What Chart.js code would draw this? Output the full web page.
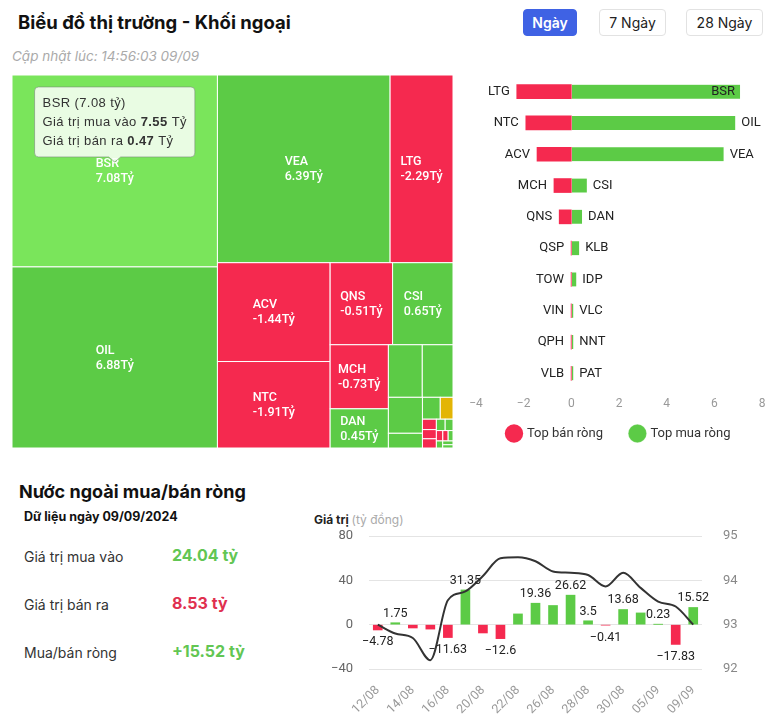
<!DOCTYPE html>
<html>
<head>
<meta charset="utf-8">
<script src="https://cdn.jsdelivr.net/npm/chart.js@4.4.1/dist/chart.umd.min.js"></script>
<style>
  body { margin: 0; width: 773px; height: 718px; background: #fff; position: relative; overflow: hidden; font-family: Inter, Roboto, sans-serif; color: #111; }
  .abs { position: absolute; white-space: nowrap; }
  .title { left: 18px; top: 11px; font-size: 18.5px; font-weight: 700; line-height: 22px; }
  .btn { top: 9px; height: 27px; box-sizing: border-box; border: 1px solid #e2e2e2; border-radius: 4px; font-size: 14px; line-height: 25px; text-align: center; color: #222; background: #fff; }
  .btn.on { background: #3f62e4; border-color: #3f62e4; color: #fff; font-weight: 600; }
  .updated { left: 12px; top: 48px; font-size: 13.5px; font-style: italic; color: #aaa; }
  .h2 { left: 19px; top: 481px; font-size: 18px; font-weight: 700; line-height: 22px; }
  .date { left: 24px; top: 509px; font-size: 12.5px; font-weight: 700; }
  .row { left: 24px; font-size: 14px; color: #333; }
  .val { left: 172px; font-size: 16px; font-weight: 700; }
  .up { color: #62c653; }
  .down { color: #e0304f; }
  .axtitle { left: 314px; top: 512px; font-size: 12px; font-weight: 700; color: #222; }
  .axtitle span { font-weight: 400; color: #aaa; }
  canvas { position: absolute; }
</style>
</head>
<body>
<div class="abs title">Biểu đồ thị trường - Khối ngoại</div>
<div class="abs btn on" style="left:523px;width:54px;">Ngày</div>
<div class="abs btn" style="left:599px;width:67px;">7 Ngày</div>
<div class="abs btn" style="left:686px;width:77px;">28 Ngày</div>
<div class="abs updated">Cập nhật lúc: 14:56:03 09/09</div>

<canvas id="treemap" width="441" height="373" style="left:12px;top:75px;"></canvas>
<canvas id="topChart" width="313" height="380" style="left:460px;top:70px;"></canvas>

<div class="abs h2">Nước ngoài mua/bán ròng</div>
<div class="abs date">Dữ liệu ngày 09/09/2024</div>
<div class="abs row" style="top:548px;">Giá trị mua vào</div>
<div class="abs val up" style="top:545px;">24.04 tỷ</div>
<div class="abs row" style="top:596px;">Giá trị bán ra</div>
<div class="abs val down" style="top:593px;">8.53 tỷ</div>
<div class="abs row" style="top:644px;">Mua/bán ròng</div>
<div class="abs val up" style="top:641px;">+15.52 tỷ</div>
<div class="abs axtitle">Giá trị <span>(tỷ đồng)</span></div>

<canvas id="flowChart" width="468" height="213" style="left:305px;top:505px;"></canvas>

<script>
// Treemap cells (size, net value shown in label)
const treeNames = ['BSR', 'OIL', 'VEA', 'LTG', 'ACV', 'NTC', 'QNS', 'CSI', 'MCH', 'DAN', 'KLB', 'IDP', '', '', '', '', 'QSP', 'TOW', 'VIN', 'VLC', 'NNT', 'QPH', 'VLB', 'PAT', '', '', ''];
const treeSizes = [7.08, 6.68, 5.82, 2.12, 2.0, 1.75, 0.92, 0.89, 0.67, 0.41, 0.32, 0.29, 0.22, 0.09, 0.07, 0.05, 0.026, 0.023, 0.023, 0.018, 0.016, 0.012, 0.01, 0.009, 0.008, 0.007, 0.006];
const treeNet = [7.08, 6.88, 6.39, -2.29, -1.44, -1.91, -0.51, 0.65, -0.73, 0.45, 0.33, 0.21, 0.15, 0.06, 0.05, 0, -0.03, -0.02, -0.01, 0.02, 0.02, -0.01, -0.01, 0.02, 0.01, 0.01, 0.01];
const hoverIndex = 0;
const hoverBuy = 7.55;
const hoverSell = 0.47;

// Top net sell / net buy
const sellNames = ['LTG', 'NTC', 'ACV', 'MCH', 'QNS', 'QSP', 'TOW', 'VIN', 'QPH', 'VLB'];
const sellValues = [-2.29, -1.91, -1.44, -0.73, -0.51, -0.01, -0.01, -0.01, -0.01, -0.01];
const buyNames = ['BSR', 'OIL', 'VEA', 'CSI', 'DAN', 'KLB', 'IDP', 'VLC', 'NNT', 'PAT'];
const buyValues = [7.08, 6.88, 6.39, 0.65, 0.45, 0.33, 0.21, 0.02, 0.02, 0.02];

// Daily foreign net flow and index line
const flowDates = ['12/08', '13/08', '14/08', '15/08', '16/08', '19/08', '20/08', '21/08', '22/08', '23/08',
  '26/08', '27/08', '28/08', '29/08', '30/08', '04/09', '05/09', '06/09', '09/09'];
const netValues = [-4.78, 1.75, -3.0, -4.0, -11.63, 31.35, -7.5, -12.6, 9.7, 19.36,
  17.3, 26.62, 3.5, -0.41, 13.68, 10.6, 0.23, -17.83, 15.52];
const labelledDays = [1, 1, 0, 0, 1, 1, 0, 1, 0, 1, 0, 1, 1, 1, 1, 0, 1, 1, 1];
const indexValues = [93.0, 92.8, 92.7, 92.2, 93.55, 93.75, 94.1, 94.5, 94.52, 94.43,
  94.2, 94.17, 94.12, 93.86, 94.17, 93.83, 93.52, 93.41, 93.0];

const GREEN = '#5ccb46';
const GREEN_HOVER = '#7ae55b';
const RED = '#f5294f';
const YELLOW = '#e3b505';

Chart.defaults.font.family = 'Roboto, sans-serif';

// squarified layout, golden-ratio target like echarts
function worst(row, s, side) {
  let amax = 0, amin = Infinity;
  row.forEach(it => { amax = Math.max(amax, it.area); amin = Math.min(amin, it.area); });
  const f = side * side * (1 + Math.sqrt(5)) / 2;
  return Math.max(f * amax / (s * s), (s * s) / (f * amin));
}

function placeRow(row, s, rect, out) {
  if (rect.w >= rect.h) {
    const cw = s / rect.h;
    let cy = rect.y;
    row.forEach(it => { const ch = it.area / cw; out.push({ i: it.i, x: rect.x, y: cy, w: cw, h: ch }); cy += ch; });
    return { x: rect.x + cw, y: rect.y, w: rect.w - cw, h: rect.h };
  }
  const rh = s / rect.w;
  let cx = rect.x;
  row.forEach(it => { const cw = it.area / rh; out.push({ i: it.i, x: cx, y: rect.y, w: cw, h: rh }); cx += cw; });
  return { x: rect.x, y: rect.y + rh, w: rect.w, h: rect.h - rh };
}

function squarify(items, rect) {
  const out = [];
  let row = [], s = 0, best = Infinity, i = 0;
  while (i < items.length) {
    const side = Math.min(rect.w, rect.h);
    row.push(items[i]); s += items[i].area;
    const score = worst(row, s, side);
    if (score <= best) { best = score; i++; }
    else {
      row.pop(); s -= items[i].area;
      rect = placeRow(row, s, rect, out);
      row = []; s = 0; best = Infinity;
    }
  }
  if (row.length) placeRow(row, s, rect, out);
  return out;
}

const treemapPlugin = {
  id: 'treemapCells',
  afterDatasetsDraw(chart) {
    const ctx = chart.ctx, xs = chart.scales.x, ys = chart.scales.y, a = chart.chartArea;
    const W = a.right - a.left, H = a.bottom - a.top;
    const total = treeSizes.reduce((p, v) => p + v, 0);
    const items = treeSizes.map((v, i) => ({ i, area: v / total * W * H })).sort((p, q) => q.area - p.area);
    const cells = squarify(items, { x: 0, y: 0, w: W, h: H });
    let hoverCell = null;
    ctx.save();
    cells.forEach(c => {
      const x0 = xs.getPixelForValue(c.x / W), x1 = xs.getPixelForValue((c.x + c.w) / W);
      const y0 = ys.getPixelForValue(c.y / H), y1 = ys.getPixelForValue((c.y + c.h) / H);
      const net = treeNet[c.i];
      let col = net > 0 ? GREEN : (net < 0 ? RED : YELLOW);
      if (c.i === hoverIndex) col = GREEN_HOVER;
      ctx.fillStyle = col;
      ctx.fillRect(x0, y0, x1 - x0, y1 - y0);
      ctx.strokeStyle = '#fff';
      ctx.lineWidth = 1;
      ctx.strokeRect(x0, y0, x1 - x0, y1 - y0);
      const name = treeNames[c.i];
      const valTxt = net.toFixed(2) + 'Tỷ';
      ctx.font = '500 12.5px Roboto, sans-serif';
      const tw = Math.max(ctx.measureText(name).width, ctx.measureText(valTxt).width);
      const cx = (x0 + x1) / 2, cy = (y0 + y1) / 2;
      if (name && tw + 10 <= x1 - x0 && 34 <= y1 - y0) {
        ctx.fillStyle = '#fff';
        ctx.textBaseline = 'middle';
        ctx.textAlign = 'left';
        ctx.fillText(name, cx - tw / 2, cy - 7);
        ctx.fillText(valTxt, cx - tw / 2, cy + 8);
      }
      if (c.i === hoverIndex) hoverCell = { cx, cy };
    });
    if (hoverCell) drawTip(ctx, hoverCell);
    ctx.restore();
  }
};

function drawTip(ctx, cell) {
  const i = hoverIndex;
  const lines = [
    [[treeNames[i] + ' (' + treeNet[i].toFixed(2) + ' tỷ)', false]],
    [['Giá trị mua vào ', false], [hoverBuy.toFixed(2), true], [' Tỷ', false]],
    [['Giá trị bán ra ', false], [hoverSell.toFixed(2), true], [' Tỷ', false]]
  ];
  const fN = '13px "Liberation Sans", Arial, sans-serif';
  const fB = 'bold 13px "Liberation Sans", Arial, sans-serif';
  ctx.letterSpacing = '0.4px';
  let maxW = 0;
  lines.forEach(l => {
    let w = 0;
    l.forEach(([t, b]) => { ctx.font = b ? fB : fN; w += ctx.measureText(t).width; });
    maxW = Math.max(maxW, w);
  });
  const bw = maxW + 16, bh = 70;
  const tipY = cell.cy - 9;
  const bx = cell.cx - bw / 2, by = tipY - 5 - bh;
  ctx.fillStyle = 'rgba(248,255,246,0.88)';
  ctx.strokeStyle = 'rgba(120,140,120,0.6)';
  ctx.lineWidth = 1;
  ctx.beginPath();
  const r = 4;
  ctx.moveTo(bx + r, by);
  ctx.lineTo(bx + bw - r, by); ctx.arcTo(bx + bw, by, bx + bw, by + r, r);
  ctx.lineTo(bx + bw, by + bh - r); ctx.arcTo(bx + bw, by + bh, bx + bw - r, by + bh, r);
  ctx.lineTo(cell.cx + 6, by + bh); ctx.lineTo(cell.cx, tipY); ctx.lineTo(cell.cx - 6, by + bh);
  ctx.lineTo(bx + r, by + bh); ctx.arcTo(bx, by + bh, bx, by + bh - r, r);
  ctx.lineTo(bx, by + r); ctx.arcTo(bx, by, bx + r, by, r);
  ctx.closePath();
  ctx.fill();
  ctx.stroke();
  ctx.fillStyle = '#333';
  ctx.textBaseline = 'middle';
  ctx.textAlign = 'left';
  lines.forEach((l, k) => {
    let x = bx + 8;
    l.forEach(([t, b]) => { ctx.font = b ? fB : fN; ctx.fillText(t, x, by + 16 + k * 19); x += ctx.measureText(t).width; });
  });
  ctx.letterSpacing = '0px';
}

new Chart(document.getElementById('treemap'), {
  type: 'scatter',
  data: { datasets: [{ data: [] }] },
  options: {
    responsive: false,
    animation: false,
    layout: { padding: 0 },
    plugins: { legend: { display: false }, tooltip: { enabled: false } },
    scales: {
      x: { type: 'linear', min: 0, max: 1, display: false },
      y: { type: 'linear', min: 0, max: 1, reverse: true, display: false }
    }
  },
  plugins: [treemapPlugin]
});

// names next to the bars of the top chart
const namePlugin = {
  id: 'barNames',
  afterDatasetsDraw(chart) {
    const ctx = chart.ctx, a = chart.chartArea;
    ctx.save();
    ctx.font = '13px Roboto, sans-serif';
    ctx.fillStyle = '#222';
    ctx.textBaseline = 'middle';
    chart.getDatasetMeta(0).data.forEach((bar, i) => {
      ctx.textAlign = 'right';
      ctx.fillText(sellNames[i], Math.min(bar.x, bar.base) - 7, bar.y);
    });
    chart.getDatasetMeta(1).data.forEach((bar, i) => {
      const end = Math.max(bar.x, bar.base);
      const w = ctx.measureText(buyNames[i]).width;
      if (end + 6 + w > a.right) {
        ctx.textAlign = 'right';
        ctx.fillText(buyNames[i], end - 5, bar.y);
      } else {
        ctx.textAlign = 'left';
        ctx.fillText(buyNames[i], end + 6, bar.y);
      }
    });
    ctx.restore();
  }
};

new Chart(document.getElementById('topChart'), {
  type: 'bar',
  data: {
    labels: sellNames.map((n, i) => n + '/' + buyNames[i]),
    datasets: [
      { label: 'Top bán ròng', data: sellValues, backgroundColor: RED, barThickness: 14 },
      { label: 'Top mua ròng', data: buyValues, backgroundColor: GREEN, barThickness: 14, minBarLength: 2,
        borderColor: '#fff', borderWidth: { left: 1, right: 0, top: 0, bottom: 0 }, borderSkipped: false }
    ]
  },
  options: {
    indexAxis: 'y',
    responsive: false,
    animation: false,
    layout: { padding: { left: 16, right: 11, top: 6, bottom: 0 } },
    scales: {
      x: {
        min: -4, max: 8, stacked: true,
        grid: { display: false }, border: { display: false },
        ticks: { stepSize: 2, color: '#999', font: { size: 12 }, padding: 0, callback: v => String(v).replace('-', '\u2212') },
        afterFit(s) { s.height = 23; }
      },
      y: { stacked: true, display: false }
    },
    plugins: {
      tooltip: { enabled: false },
      legend: {
        position: 'bottom',
        labels: {
          usePointStyle: true, pointStyle: 'circle', boxWidth: 13, boxHeight: 13, padding: 15, color: '#333', font: { size: 13 },
          generateLabels(chart) {
            const items = Chart.defaults.plugins.legend.labels.generateLabels(chart);
            items[0].text += '    ';
            return items;
          }
        }
      }
    }
  },
  plugins: [namePlugin]
});

// value labels on the net flow bars
const valuePlugin = {
  id: 'valueLabels',
  afterDatasetsDraw(chart) {
    const ctx = chart.ctx;
    ctx.save();
    ctx.font = '12.5px Roboto, sans-serif';
    ctx.fillStyle = '#222';
    ctx.textAlign = 'center';
    chart.getDatasetMeta(1).data.forEach((bar, i) => {
      if (!labelledDays[i]) return;
      const v = netValues[i];
      const txt = String(v).replace('-', '\u2212');
      if (v >= 0) {
        ctx.textBaseline = 'bottom';
        ctx.fillText(txt, bar.x, Math.min(bar.y, bar.base) - 3);
      } else {
        ctx.textBaseline = 'top';
        ctx.fillText(txt, bar.x, Math.max(bar.y, bar.base) + 6);
      }
    });
    ctx.restore();
  }
};

new Chart(document.getElementById('flowChart'), {
  data: {
    labels: flowDates,
    datasets: [
      { type: 'line', data: indexValues, yAxisID: 'y1', borderColor: '#333', borderWidth: 2, pointRadius: 0, cubicInterpolationMode: 'monotone', order: 0 },
      { type: 'bar', data: netValues, yAxisID: 'y', backgroundColor: netValues.map(v => v >= 0 ? GREEN : RED), barThickness: 9, order: 1 }
    ]
  },
  options: {
    responsive: false,
    animation: false,
    layout: { padding: { top: 31, left: 0, right: 0, bottom: 0 } },
    plugins: { legend: { display: false }, tooltip: { enabled: false } },
    scales: {
      x: {
        grid: { display: false }, border: { display: false },
        ticks: {
          autoSkip: false, maxRotation: 45, minRotation: 45, color: '#999', font: { size: 12.5 }, padding: 6,
          callback(v, i) { return i % 2 === 0 ? this.getLabelForValue(v) : ''; }
        },
        afterFit(s) { s.height = 49; }
      },
      y: {
        position: 'left', min: -40, max: 80,
        grid: { color: '#e4e4e4', drawTicks: false }, border: { display: false },
        ticks: { stepSize: 40, color: '#666', font: { size: 13 }, padding: 16, callback: v => String(v).replace('-', '\u2212') },
        afterFit(s) { s.width = 64; }
      },
      y1: {
        position: 'right', min: 92, max: 95,
        grid: { display: false }, border: { display: false },
        ticks: { stepSize: 1, color: '#888', font: { size: 13 }, padding: 13 },
        afterFit(s) { s.width = 71; }
      }
    }
  },
  plugins: [valuePlugin]
});
</script>
</body>
</html>
